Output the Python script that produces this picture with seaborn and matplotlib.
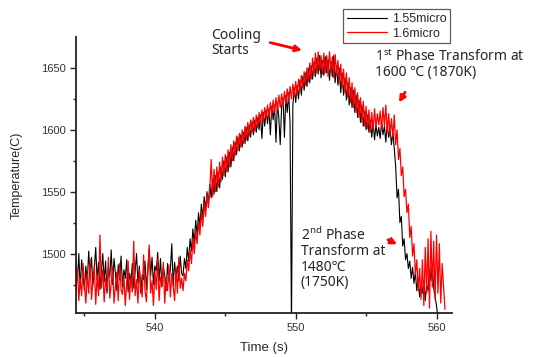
import numpy as np
import pandas as pd
import matplotlib
matplotlib.use("Agg")
import matplotlib.pyplot as plt
import seaborn as sns

t_start = 534.4
temp_155 = [
    1492, 1478, 1500, 1472, 1495, 1481,
    1470, 1490, 1476, 1502, 1483, 1497, 1474, 1488, 1505, 1479,
    1493, 1471, 1486, 1500, 1477, 1494, 1468, 1489, 1481, 1503,
    1475, 1496, 1484, 1470, 1491, 1479, 1498, 1473, 1487, 1480,
    1495, 1469, 1484, 1477, 1492, 1472, 1486, 1500, 1476, 1490,
    1468, 1483, 1479, 1494, 1471, 1488, 1504, 1482, 1497, 1475,
    1490, 1486, 1501, 1478, 1496, 1473, 1489, 1483, 1470, 1492,
    1477, 1487, 1508, 1474, 1493, 1481, 1490, 1478, 1498, 1484,
    1482, 1496, 1488, 1505, 1494, 1512, 1502, 1520, 1508, 1527,
    1515, 1533, 1522, 1540, 1528, 1546, 1535, 1550, 1540, 1556,
    1545, 1560, 1548, 1563, 1550, 1566, 1553, 1570, 1560, 1575,
    1562, 1578, 1566, 1582, 1570, 1586, 1575, 1590, 1580, 1594,
    1583, 1596, 1586, 1598, 1589, 1602, 1591, 1604, 1594, 1607,
    1596, 1608, 1598, 1610, 1600, 1612, 1593, 1614, 1603, 1616,
    1605, 1617, 1596, 1619, 1608, 1620, 1590, 1622, 1610, 1588,
    1618, 1626, 1594, 1628, 1614, 1630, 1605, 1440, 1620, 1634,
    1622, 1636, 1625, 1640, 1628, 1643, 1632, 1646, 1635, 1650,
    1638, 1652, 1641, 1655, 1643, 1658, 1645, 1660, 1642, 1656,
    1644, 1659, 1646, 1657, 1640, 1655, 1643, 1660, 1638, 1652,
    1636, 1650, 1630, 1646, 1628, 1642, 1624, 1638, 1620, 1634,
    1618, 1632, 1614, 1628, 1610, 1624, 1606, 1620, 1603, 1615,
    1600, 1612, 1598, 1608, 1594, 1606, 1592, 1604, 1595, 1602,
    1593, 1606, 1596, 1603, 1590, 1605, 1594, 1600, 1588, 1598,
    1585, 1570, 1545, 1552, 1525, 1530, 1506, 1512, 1495, 1500,
    1488, 1494, 1480, 1489, 1476, 1485, 1470, 1480, 1465, 1476,
    1468, 1478, 1462, 1475, 1470, 1488, 1478, 1492, 1472, 1465,
    1458, 1448,
]
temp_16 = [
    1470, 1488, 1462, 1480, 1466, 1492,
    1475, 1460, 1484, 1468, 1495, 1463, 1478, 1490, 1459, 1483,
    1466, 1515, 1472, 1487, 1461, 1480, 1470, 1497, 1464, 1476,
    1489, 1460, 1474, 1485, 1462, 1492, 1471, 1467, 1482, 1458,
    1477, 1494, 1463, 1481, 1469, 1510, 1466, 1479, 1460, 1487,
    1473, 1465, 1499, 1470, 1461, 1484, 1507, 1468, 1478, 1458,
    1486, 1471, 1496, 1462, 1481, 1475, 1493, 1460, 1479, 1470,
    1491, 1465, 1484, 1474, 1462, 1488, 1468, 1497, 1472, 1480,
    1470, 1484, 1478, 1495, 1486, 1503, 1492, 1512, 1500, 1518,
    1508, 1526, 1515, 1534, 1522, 1541, 1530, 1548, 1537, 1552,
    1576, 1546, 1568, 1550, 1570, 1554, 1574, 1558, 1578, 1563,
    1580, 1566, 1584, 1570, 1588, 1575, 1591, 1579, 1595, 1583,
    1597, 1586, 1600, 1589, 1603, 1592, 1606, 1595, 1608, 1598,
    1610, 1599, 1612, 1602, 1614, 1605, 1616, 1607, 1618, 1609,
    1620, 1610, 1622, 1612, 1624, 1614, 1626, 1616, 1628, 1618,
    1629, 1619, 1631, 1621, 1633, 1623, 1635, 1625, 1637, 1627,
    1639, 1628, 1641, 1631, 1644, 1634, 1647, 1636, 1650, 1639,
    1654, 1641, 1658, 1644, 1662, 1646, 1663, 1648, 1660, 1645,
    1662, 1646, 1660, 1643, 1663, 1648, 1659, 1642, 1661, 1645,
    1656, 1638, 1653, 1634, 1649, 1630, 1646, 1626, 1642, 1622,
    1638, 1618, 1634, 1614, 1630, 1610, 1626, 1606, 1623, 1603,
    1619, 1601, 1616, 1598, 1614, 1600, 1617, 1602, 1613, 1604,
    1615, 1600, 1618, 1603, 1620, 1598, 1613, 1596, 1609, 1594,
    1612, 1588, 1600, 1576, 1585, 1563, 1570, 1546, 1552, 1533,
    1540, 1513, 1522, 1498, 1508, 1483, 1495, 1470, 1488, 1463,
    1495, 1458, 1505, 1468, 1512, 1456, 1518, 1473, 1510, 1463,
    1515, 1468, 1508, 1460, 1492, 1474, 1455,
]

df_155 = pd.DataFrame({"time": t_start + 0.1 * np.arange(len(temp_155)), "temp": temp_155})
df_16 = pd.DataFrame({"time": t_start + 0.1 * np.arange(len(temp_16)), "temp": temp_16})

sns.set_style("ticks")
plt.rcParams["font.family"] = ["Liberation Sans", "DejaVu Sans"]
note_font = ["Noto Sans", "DejaVu Sans"]

fig = plt.figure(figsize=(5.36, 3.57), dpi=100)
ax = fig.add_axes([0.1418, 0.1232, 0.7015, 0.7732])

sns.lineplot(data=df_155, x="time", y="temp", color="black", lw=0.8,
             label="1.55micro", ax=ax, estimator=None)
sns.lineplot(data=df_16, x="time", y="temp", color="red", lw=0.9,
             label="1.6micro", ax=ax, estimator=None)

ax.set_xlim(534.4, 561.1)
ax.set_ylim(1452, 1675)
ax.set_xticks([540, 550, 560])
ax.set_xticks([535, 545, 555], minor=True)
ax.set_yticks([1500, 1550, 1600, 1650])
ax.set_yticks([1475, 1525, 1575, 1625], minor=True)
ax.tick_params(axis="both", which="major", direction="out", length=4, width=1,
               labelsize=8, colors="#222222", labelcolor="#333333")
ax.tick_params(axis="both", which="minor", direction="out", length=2.5, width=1,
               colors="#222222")
sns.despine(ax=ax)
for side in ["left", "bottom"]:
    ax.spines[side].set_linewidth(1.3)
    ax.spines[side].set_color("#222222")

ax.set_xlabel("Time (s)", fontsize=9.5, labelpad=6)
ax.set_ylabel("Temperature(C)", fontsize=9, labelpad=13)

leg = ax.legend(loc="upper right", bbox_to_anchor=(0.995, 1.10), fontsize=9,
                frameon=True, fancybox=False, edgecolor="#333333",
                handlelength=3.2, borderpad=0.3, labelspacing=0.2,
                handletextpad=0.4, borderaxespad=0)
leg.get_frame().set_linewidth(0.9)

ax.text(543.97, 1682, "Cooling\nStarts", fontsize=10, family=note_font,
        va="top", ha="left", linespacing=1.0, clip_on=False)
ax.text(555.6, 1666, "1$^{\\mathregular{st}}$ Phase Transform at\n1600 \u2103 (1870K)",
        fontsize=10, family=note_font, va="top", ha="left", linespacing=1.0,
        clip_on=False)
ax.text(550.35, 1522, "2$^{\\mathregular{nd}}$ Phase\nTransform at\n1480\u2103\n(1750K)",
        fontsize=10, family=note_font, va="top", ha="left", linespacing=1.05)

arrow = dict(arrowstyle="-|>", color="red", lw=2, mutation_scale=9)
ax.annotate("", xy=(550.64, 1663.7), xytext=(548.0, 1671), arrowprops=arrow,
            annotation_clip=False)
ax.annotate("", xy=(557.23, 1620.2), xytext=(557.87, 1632.3), arrowprops=arrow)
ax.annotate("", xy=(557.38, 1506.5), xytext=(556.38, 1512.2), arrowprops=arrow)

fig.savefig("out.png", dpi=100, facecolor="white")
